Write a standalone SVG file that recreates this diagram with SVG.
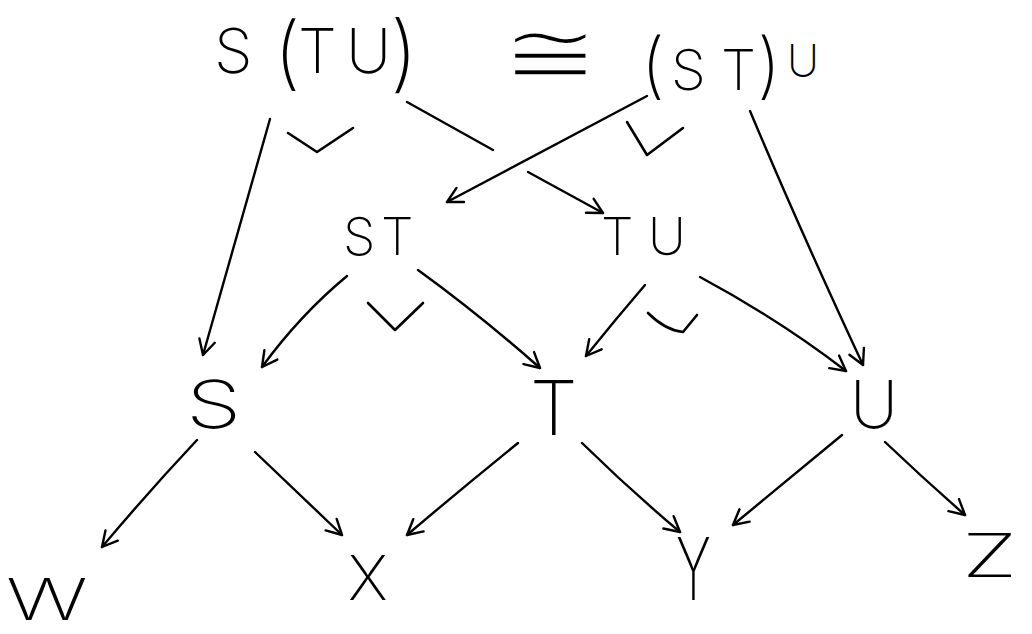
<svg xmlns="http://www.w3.org/2000/svg" width="1032" height="634" viewBox="0 0 1032 634">
  <style>
    .lbl { font-family: Inter, Lato, "Liberation Sans", sans-serif; font-weight: 200; fill: #000; }
    .sym { font-family: "DejaVu Sans", sans-serif; font-weight: normal; fill: #000; stroke: #fff; stroke-width: 4; }
    .edge { fill: none; stroke: #000; stroke-width: 2.4; stroke-linecap: round; stroke-linejoin: round; }
    .tick { fill: none; stroke: #000; stroke-width: 2.6; stroke-linecap: round; stroke-linejoin: round; }
  </style>
  <defs>
    <marker id="head" viewBox="-20 -12 24 24" markerWidth="24" markerHeight="24" refX="0" refY="0" orient="auto" markerUnits="userSpaceOnUse">
      <path d="M -15 -8 L 0 0 L -15 8" fill="none" stroke="#000" stroke-width="2.4" stroke-linecap="round" stroke-linejoin="round"/>
    </marker>
  </defs>
  <rect width="1032" height="634" fill="#fff"/>

  <!-- top row: the two bracketings and the isomorphism sign -->
  <g id="node-S-TU">
    <text class="lbl" font-size="62" y="73"><tspan x="214">S</tspan><tspan x="274" y="80" font-size="80">(</tspan><tspan x="298" y="73">T</tspan><tspan x="346">U</tspan><tspan x="390" y="82" font-size="84">)</tspan></text>
  </g>
  <g id="iso">
    <text class="sym" font-size="100" transform="translate(500 84) scale(1.2 0.9)">≅</text>
  </g>
  <g id="node-ST-U">
    <text class="lbl" font-size="56" y="84"><tspan x="641" y="90" font-size="72">(</tspan><tspan x="671">S</tspan><tspan x="721">T</tspan><tspan x="757" y="90" font-size="72">)</tspan><tspan x="787" y="76" font-size="44">U</tspan></text>
  </g>

  <!-- middle row -->
  <g id="node-ST">
    <text class="lbl" font-size="52" y="255"><tspan x="343">S</tspan><tspan x="381">T</tspan></text>
  </g>
  <g id="node-TU">
    <text class="lbl" font-size="52" y="255"><tspan x="601">T</tspan><tspan x="648">U</tspan></text>
  </g>

  <!-- single objects -->
  <g id="node-S"><text class="lbl" font-size="66" transform="translate(186 428) scale(1.35 1)">S</text></g>
  <g id="node-T"><text class="lbl" font-size="76" x="530" y="435">T</text></g>
  <g id="node-U"><text class="lbl" font-size="66" x="850" y="428">U</text></g>

  <!-- bottom row -->
  <g id="node-W"><text class="lbl" font-size="64" transform="translate(6 620) scale(1.35 0.9)">W</text></g>
  <g id="node-X"><text class="lbl" font-size="62" x="348" y="600">X</text></g>
  <g id="node-Y"><text class="lbl" font-size="86" transform="translate(676 600) scale(0.62 1)">Y</text></g>
  <g id="node-Z"><text class="lbl" font-size="60" transform="translate(962 577) scale(1.5 1)">Z</text></g>

  <!-- arrows -->
  <g id="connectors">
    <path class="edge" d="M 270 119 L 203 355" marker-end="url(#head)"/>
    <!-- S(TU) -> TU, broken where it passes under (ST)U -> ST -->
    <path class="edge" d="M 407 102 L 493 150"/>
    <path class="edge" d="M 528 172 L 603 213" marker-end="url(#head)"/>
    <path class="edge" d="M 647 96 L 447 202" marker-end="url(#head)"/>
    <path class="edge" d="M 750 111 Q 800 230 863 365" marker-end="url(#head)"/>

    <path class="edge" d="M 347 276 Q 300 315 262 367" marker-end="url(#head)"/>
    <path class="edge" d="M 418 270 Q 480 315 540 368" marker-end="url(#head)"/>
    <path class="edge" d="M 645 285 Q 615 320 586 356" marker-end="url(#head)"/>
    <path class="edge" d="M 700 277 Q 780 320 846 371" marker-end="url(#head)"/>

    <path class="edge" d="M 197 440 Q 150 490 102 547" marker-end="url(#head)"/>
    <path class="edge" d="M 255 452 Q 300 495 342 535" marker-end="url(#head)"/>
    <path class="edge" d="M 518 443 Q 460 490 407 535" marker-end="url(#head)"/>
    <path class="edge" d="M 582 443 Q 630 490 680 532" marker-end="url(#head)"/>
    <path class="edge" d="M 842 435 Q 790 478 733 525" marker-end="url(#head)"/>
    <path class="edge" d="M 885 442 Q 925 480 965 515" marker-end="url(#head)"/>
  </g>

  <!-- commuting-square ticks -->
  <g id="ticks">
    <path class="tick" d="M 288 133 L 317 152 L 353 128"/>
    <path class="tick" d="M 627 122 L 647 155 L 683 128"/>
    <path class="tick" d="M 368 303 L 395 330 L 423 303"/>
    <path class="tick" d="M 648 313 Q 665 330 683 332 L 697 315"/>
  </g>
</svg>
